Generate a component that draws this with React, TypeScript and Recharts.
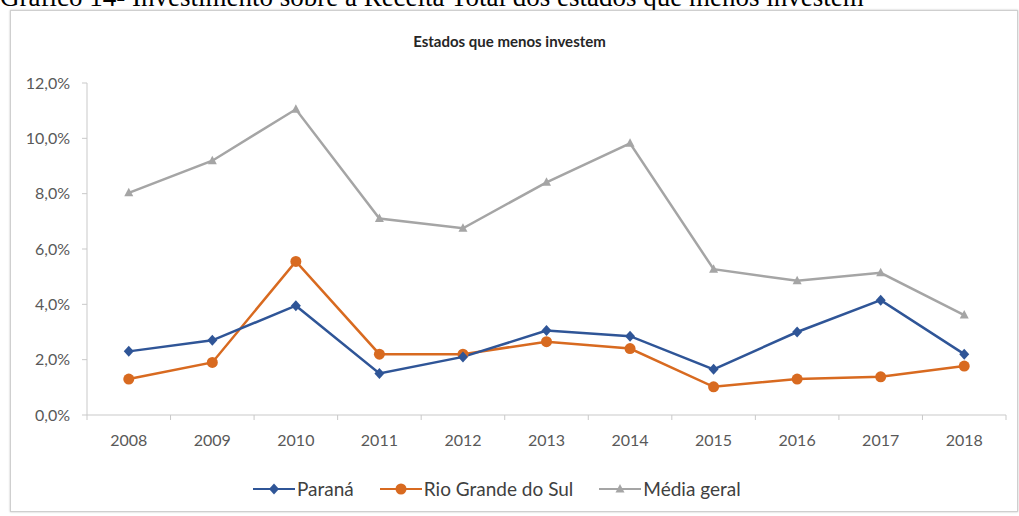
import { LineChart, Line, XAxis, YAxis, Legend } from 'recharts';

const anos = ['2008', '2009', '2010', '2011', '2012', '2013', '2014', '2015', '2016', '2017', '2018'];
const parana = [2.3, 2.7, 3.95, 1.5, 2.1, 3.05, 2.85, 1.65, 3.0, 4.15, 2.2];
const rioGrande = [1.3, 1.9, 5.55, 2.2, 2.2, 2.65, 2.4, 1.02, 1.3, 1.38, 1.77];
const mediaGeral = [8.03, 9.19, 11.05, 7.1, 6.75, 8.41, 9.82, 5.27, 4.85, 5.14, 3.61];
const yTicks = [0, 2, 4, 6, 8, 10, 12];

const data = anos.map((ano, i) => ({
  ano,
  parana: parana[i],
  rioGrande: rioGrande[i],
  media: mediaGeral[i],
}));

const AZUL = '#2F5597';
const LARANJA = '#D86A20';
const CINZA = '#A5A5A5';
const FONTE = 'Lato, "Open Sans", sans-serif';

// plot area: x 87..1006, y 83..415
const PLOT_W = 919;
const BAND = PLOT_W / anos.length;

const Diamond = ({ cx, cy, fill }: any) => (
  <path d={`M${cx},${cy - 5.5} L${cx + 5},${cy} L${cx},${cy + 5.5} L${cx - 5},${cy} Z`} fill={fill} />
);
const Circle = ({ cx, cy, fill }: any) => <circle cx={cx} cy={cy} r={5.5} fill={fill} />;
const Triangle = ({ cx, cy, fill }: any) => (
  <path d={`M${cx},${cy - 5} L${cx + 4.5},${cy + 3.5} L${cx - 4.5},${cy + 3.5} Z`} fill={fill} />
);

const XTick = ({ x, y, payload, index }: any) => (
  <g>
    <line x1={x - BAND / 2} x2={x - BAND / 2} y1={y} y2={y + 5} stroke="#c9c9c9" />
    {index === anos.length - 1 && (
      <line x1={x + BAND / 2} x2={x + BAND / 2} y1={y} y2={y + 5} stroke="#c9c9c9" />
    )}
    <text x={x} y={y + 24} textAnchor="middle" dominantBaseline="central" fill="#595959" fontSize={16} fontFamily={FONTE}>
      {payload.value}
    </text>
  </g>
);

const legendItems = [
  { nome: 'Paraná', cor: AZUL, Marker: Diamond },
  { nome: 'Rio Grande do Sul', cor: LARANJA, Marker: Circle },
  { nome: 'Média geral', cor: CINZA, Marker: Triangle },
];

const LegendContent = () => (
  <div style={{ display: 'flex', alignItems: 'center', fontFamily: FONTE, fontSize: 19, color: '#404040' }}>
    {legendItems.map(({ nome, cor, Marker }) => (
      <div key={nome} style={{ display: 'flex', alignItems: 'center', marginRight: 26 }}>
        <svg width={42} height={14}>
          <line x1={0} x2={42} y1={7} y2={7} stroke={cor} strokeWidth={2.2} />
          <Marker cx={21} cy={7} fill={cor} />
        </svg>
        <span style={{ marginLeft: 2 }}>{nome}</span>
      </div>
    ))}
  </div>
);

export default function App() {
  return (
    <div style={{ position: 'absolute', left: 0, top: 0, width: 1019, height: 516, overflow: 'hidden', background: '#fff' }}>
      <div
        style={{
          position: 'absolute',
          left: 0,
          top: -16,
          fontFamily: '"Liberation Serif", "Times New Roman", serif',
          fontSize: 27,
          lineHeight: '27px',
          whiteSpace: 'nowrap',
          color: '#000',
        }}
      >
        Gráfico 14- Investimento sobre a Receita Total dos estados que menos investem
      </div>
      <div
        style={{
          position: 'absolute',
          left: 10,
          top: 10,
          width: 1006,
          height: 500,
          border: '1px solid #cfcfcf',
          boxShadow: '0 0 2px rgba(0,0,0,0.25)',
          background: '#fff',
        }}
      />
      <div
        style={{
          position: 'absolute',
          left: 0,
          top: 32,
          width: 1019,
          textAlign: 'center',
          fontFamily: FONTE,
          fontWeight: 700,
          fontSize: 15,
          color: '#262626',
        }}
      >
        Estados que menos investem
      </div>
      <div style={{ position: 'absolute', left: 0, top: 0 }}>
        <LineChart width={1019} height={516} data={data} margin={{ top: 83, right: 13, left: 27, bottom: 61 }}>
          <XAxis
            dataKey="ano"
            scale="band"
            height={40}
            tickSize={0}
            tickMargin={0}
            tickLine={false}
            axisLine={{ stroke: '#c9c9c9' }}
            tick={<XTick />}
            interval={0}
          />
          <YAxis
            width={60}
            domain={[0, 12]}
            ticks={yTicks}
            tickSize={5}
            tickMargin={12}
            tickLine={{ stroke: '#c9c9c9' }}
            axisLine={{ stroke: '#c9c9c9' }}
            tick={{ fill: '#595959', fontSize: 16, fontFamily: FONTE }}
            tickFormatter={(v: number) => v.toFixed(1).replace('.', ',') + '%'}
          />
          <Legend
            layout="horizontal"
            verticalAlign="middle"
            align="center"
            wrapperStyle={{ top: 477, left: 253, width: 'auto' }}
            content={<LegendContent />}
          />
          <Line dataKey="media" name="Média geral" stroke={CINZA} strokeWidth={2.5} dot={<Triangle fill={CINZA} />} isAnimationActive={false} />
          <Line dataKey="rioGrande" name="Rio Grande do Sul" stroke={LARANJA} strokeWidth={2.5} dot={<Circle fill={LARANJA} />} isAnimationActive={false} />
          <Line dataKey="parana" name="Paraná" stroke={AZUL} strokeWidth={2.5} dot={<Diamond fill={AZUL} />} isAnimationActive={false} />
        </LineChart>
      </div>
    </div>
  );
}
